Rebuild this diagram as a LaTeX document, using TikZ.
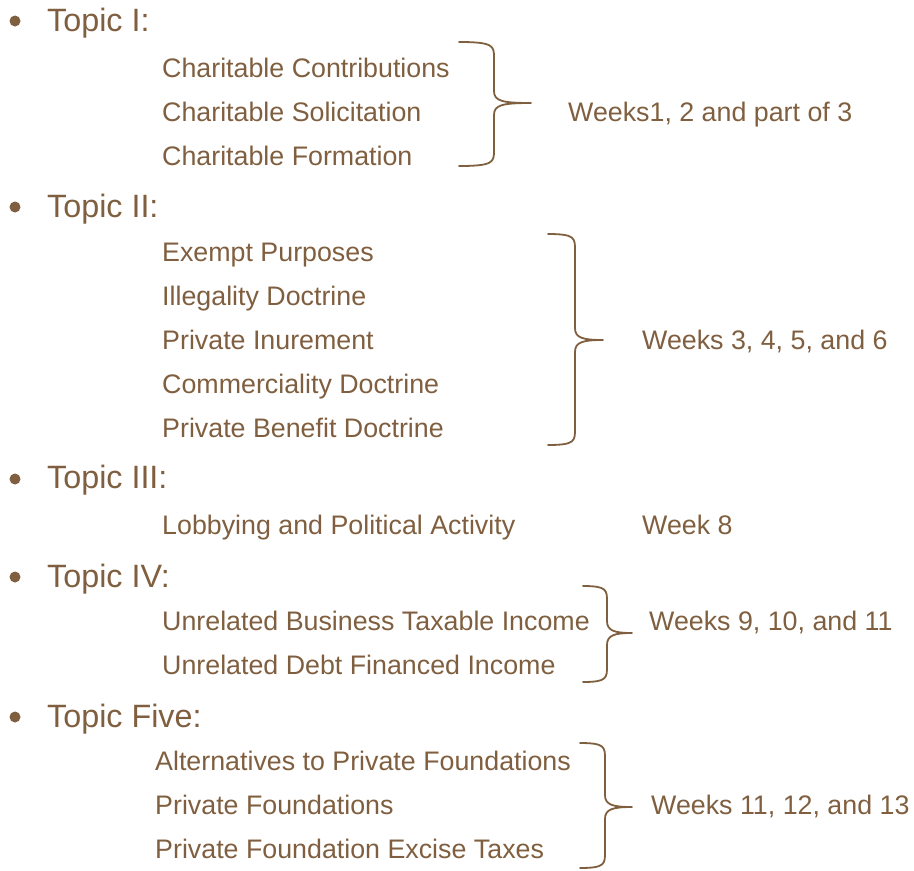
\documentclass[tikz,border=0pt]{standalone}
\usepackage{fontspec}
\setmainfont{Liberation Sans}
\definecolor{brn}{RGB}{127,95,63}
\begin{document}
\begin{tikzpicture}[x=1pt,y=-1pt,
  topic/.style={anchor=base west,inner sep=0pt,text=brn,font=\fontsize{32.3}{36}\selectfont},
  item/.style={anchor=base west,inner sep=0pt,text=brn,font=\fontsize{26.8}{30}\selectfont},
  bul/.style={circle,fill=brn,inner sep=0pt,minimum size=11pt},
  brace/.style={draw=brn,line width=1.8pt,line cap=round,line join=round}]
\useasboundingbox (0,0) rectangle (914,871);
% Topic I
\node[bul] (b1) at (15,21) {};
\node[topic] (t1) at (47,31) {Topic I:};
\node[item] (i11) at (162,77) {Charitable Contributions};
\node[item] (i12) at (162,121) {Charitable Solicitation};
\node[item] (i13) at (162,165) {Charitable Formation};
\node[item] (w1) at (568,121) {Weeks1, 2 and part of 3};
% Topic II
\node[bul] (b2) at (15,207) {};
\node[topic] (t2) at (47,217) {Topic II:};
\node[item] (i21) at (162,261) {Exempt Purposes};
\node[item] (i22) at (162,305) {Illegality Doctrine};
\node[item] (i23) at (162,349) {Private Inurement};
\node[item] (i24) at (162,393) {Commerciality Doctrine};
\node[item] (i25) at (162,437) {Private Benefit Doctrine};
\node[item] (w2) at (642,349) {Weeks 3, 4, 5, and 6};
% Topic III
\node[bul] (b3) at (15,479) {};
\node[topic] (t3) at (47,488) {Topic III:};
\node[item] (i31) at (162,534) {Lobbying and Political Activity};
\node[item] (w3) at (642,534) {Week 8};
% Topic IV
\node[bul] (b4) at (15,577) {};
\node[topic] (t4) at (47,587) {Topic IV:};
\node[item] (i41) at (162,630) {Unrelated Business Taxable Income};
\node[item] (i42) at (162,674) {Unrelated Debt Financed Income};
\node[item] (w4) at (649,630) {Weeks 9, 10, and 11};
% Topic Five
\node[bul] (b5) at (15,717) {};
\node[topic] (t5) at (47,727) {Topic Five:};
\node[item] (i51) at (155,770) {Alternatives to Private Foundations};
\node[item] (i52) at (155,814) {Private Foundations};
\node[item] (i53) at (155,858) {Private Foundation Excise Taxes};
\node[item] (w5) at (651,814) {Weeks 11, 12, and 13};
% braces: left x, vertical x, tip x, top y, mid y, bottom y
\newcommand{\mybrace}[6]{%
  \draw[brace] (#1,#4) .. controls (#2,#4) and (#2,#4+4) .. (#2,#4+16)
    -- (#2,#5-12) .. controls (#2,#5-2) and (#2+8,#5) .. (#3,#5)
    (#2,#5+12) .. controls (#2,#5+2) and (#2+8,#5) .. (#3,#5)
    (#2,#5+12) -- (#2,#6-16) .. controls (#2,#6-4) and (#2,#6) .. (#1,#6);}
\mybrace{459}{494}{531}{42}{103}{166}
\mybrace{548}{575}{603}{234}{340}{445}
\mybrace{583}{607}{632}{586}{633}{682}
\mybrace{580}{605}{632}{743}{807}{868}
\end{tikzpicture}
\end{document}
